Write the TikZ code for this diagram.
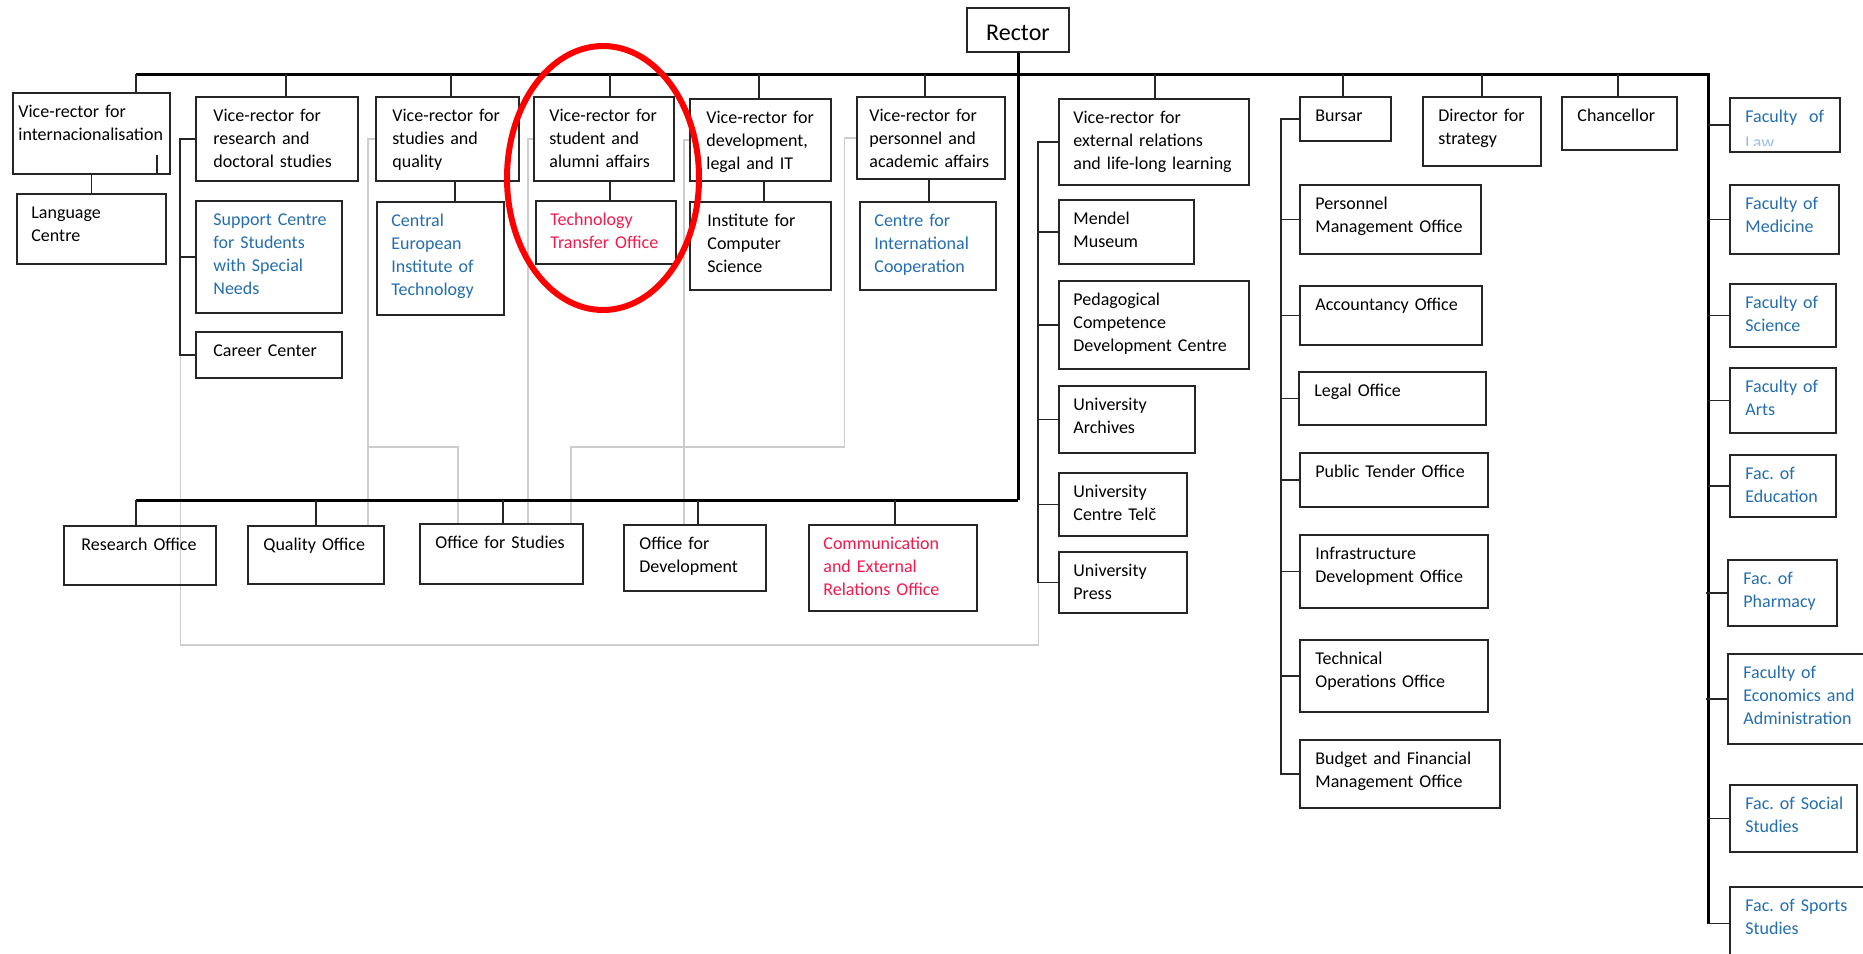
\documentclass[tikz,border=0pt]{standalone}
\usepackage{fontspec}
\setmainfont{Carlito}
\frenchspacing
\usetikzlibrary{fit}
\definecolor{unitblue}{RGB}{36,110,175}
\definecolor{unitred}{RGB}{245,25,75}
\definecolor{faintgrey}{RGB}{205,205,205}
\pgfdeclarelayer{back}
\pgfsetlayers{back,main}
\tikzset{
  unit/.style={draw=black!85, line width=1.6pt, inner sep=0pt},
  unittext/.style={font=\fontsize{18}{23}\selectfont, text width=250pt, align=left,
    inner sep=0pt, anchor=base west},
  link/.style={line width=1.8pt, draw=black!85},
  bar/.style={line width=3pt, draw=black},
  faint/.style={line width=1.2pt, draw=faintgrey},
}
% #1 text inset, #2 name, #3-#6 corners, #7 text colour, #8 text
\newcommand\orgbox[8][16]{%
  \node[unit, fit={(#3,#4) (#5,#6)}] (#2) {};
  \node[unittext, text=#7] (#2-t) at ([shift={(#1,25)}]#2.north west) {#8};
}
\begin{document}
\begin{tikzpicture}[x=1pt, y=-1pt]
\begin{pgfonlayer}{back}
  \fill[white] (0,0) rectangle (1863,953);
\end{pgfonlayer}
\useasboundingbox (0,0) rectangle (1863,953);

% rector
\node[unit, fit={(967,8) (1069,52)}] (rector) {};
\node[font=\fontsize{24}{28}\selectfont, anchor=base, inner sep=0pt] (rector-t)
  at ([yshift=12pt]rector.south) {Rector};

% vice-rectors and their units
\orgbox[6]{vrint}{13}{93}{170}{174}{black}{Vice-rector for\\internacionalisation}
\orgbox[15]{lang}{17}{194}{166}{264}{black}{Language\\Centre}
\orgbox[18]{vrres}{196}{97}{358}{181}{black}{Vice-rector for\\research and\\doctoral studies}
\orgbox[18]{support}{196}{201}{342}{313}{unitblue}{Support Centre\\for Students\\with Special\\Needs}
\orgbox[18]{career}{196}{332}{342}{378}{black}{Career Center}
\orgbox[17]{vrstud}{376}{97}{519}{181}{black}{Vice-rector for\\studies and\\quality}
\orgbox[15]{ceitec}{377}{202}{504}{315}{unitblue}{Central\\European\\Institute of\\Technology}
\orgbox[16]{vrstu}{534}{97}{674}{181}{black}{Vice-rector for\\student and\\alumni affairs}
\orgbox[15]{tto}{536}{201}{676}{264}{unitred}{Technology\\Transfer Office}
\orgbox[17]{vrdev}{690}{99}{831}{181}{black}{Vice-rector for\\development,\\legal and IT}
\orgbox[18]{ics}{690}{202}{831}{290}{black}{Institute for\\Computer\\Science}
\orgbox[13]{vrpers}{857}{97}{1005}{179}{black}{Vice-rector for\\personnel and\\academic affairs}
\orgbox[15]{cic}{860}{202}{996}{290}{unitblue}{Centre for\\International\\Cooperation}
\orgbox[15]{vrext}{1059}{99}{1249}{185}{black}{Vice-rector for\\external relations\\and life-long learning}
\orgbox[15]{mendel}{1059}{200}{1194}{264}{black}{Mendel\\Museum}
\orgbox[15]{peda}{1059}{281}{1249}{369}{black}{Pedagogical\\Competence\\Development Centre}
\orgbox[15]{archives}{1059}{386}{1195}{453}{black}{University\\Archives}
\orgbox[15]{telc}{1059}{473}{1187}{536}{black}{University\\Centre Telč}
\orgbox[15]{press}{1059}{552}{1187}{613}{black}{University\\Press}

% bursar, director, chancellor
\orgbox{bursar}{1300}{97}{1391}{141}{black}{Bursar}
\orgbox{director}{1423}{97}{1541}{166}{black}{Director for\\strategy}
\orgbox{chancellor}{1562}{97}{1677}{150}{black}{Chancellor}
\orgbox{pmo}{1300}{185}{1481}{254}{black}{Personnel\\Management Office}
\orgbox{acc}{1300}{286}{1482}{345}{black}{Accountancy Office}
\orgbox{legal}{1299}{372}{1486}{425}{black}{Legal Office}
\orgbox{tender}{1300}{453}{1488}{507}{black}{Public Tender Office}
\orgbox{infra}{1300}{535}{1488}{608}{black}{Infrastructure\\Development Office}
\orgbox{tech}{1300}{640}{1488}{712}{black}{Technical\\Operations Office}
\orgbox{budget}{1300}{740}{1500}{808}{black}{Budget and Financial\\Management Office}

% faculties
\orgbox{law}{1730}{98}{1840}{152}{unitblue}{Faculty~ of}
\begin{scope}
  \clip (law.north west) rectangle ([yshift=7pt]law.south east);
  \node[unittext, text=unitblue, opacity=0.45] (law-t2) at ([shift={(16,51)}]law.north west) {Law};
\end{scope}
\orgbox{med}{1730}{185}{1839}{254}{unitblue}{Faculty of\\Medicine}
\orgbox{sci}{1730}{284}{1836}{347}{unitblue}{Faculty of\\Science}
\orgbox{arts}{1730}{368}{1836}{433}{unitblue}{Faculty of\\Arts}
\orgbox{edu}{1730}{455}{1836}{517}{unitblue}{Fac. of\\Education}
\orgbox{pharm}{1728}{560}{1837}{626}{unitblue}{Fac. of\\Pharmacy}
\orgbox{econ}{1728}{654}{1872}{744}{unitblue}{Faculty of\\Economics and\\Administration}
\orgbox{social}{1730}{785}{1857}{852}{unitblue}{Fac. of Social\\Studies}
\orgbox{sports}{1730}{887}{1872}{960}{unitblue}{Fac. of Sports\\Studies}

% offices below the rector
\orgbox[18]{resoff}{64}{526}{216}{585}{black}{Research Office}
\orgbox{quality}{248}{526}{384}{584}{black}{Quality Office}
\orgbox{offstud}{420}{524}{583}{584}{black}{Office for Studies}
\orgbox{offdev}{624}{525}{766}{591}{black}{Office for\\Development}
\orgbox[15]{comm}{809}{525}{977}{611}{unitred}{Communication\\and External\\Relations Office}

\coordinate (topbar) at (0,74);
\coordinate (botbar) at (0,500);
\coordinate (faintmid) at (0,447);
\coordinate (faintlow) at (0,645);

% main bars
\draw[bar] ([xshift=44.5pt]vrint.north |- topbar) -| ([xshift=-21pt]sports.west);
\draw[bar] (rector.south) -- (rector.south |- botbar);
\draw[bar] ([xshift=-4pt]resoff.north |- botbar) -- (rector.south |- botbar);

% drops from the bars
\foreach \n/\dx in {vrint/44.5, vrres/9, vrstud/3.5, vrstu/6, vrdev/-1.5, vrpers/-6,
                    vrext/1, bursar/-2.5, director/0, chancellor/-1.5}
  \draw[link] ([xshift=\dx pt]\n.north) -- ([xshift=\dx pt]\n.north |- topbar);
\foreach \n/\dx in {resoff/-4, quality/0, offstud/1.5, offdev/3, comm/2}
  \draw[link] ([xshift=\dx pt]\n.north) -- ([xshift=\dx pt]\n.north |- botbar);

% units under a vice-rector
\draw[link] (vrint.south) -- (lang.north);
\draw[link] ([xshift=-14pt]vrint.south east) -- ++(0,-20);
\draw[link] ([xshift=7.5pt]vrstud.south) -- ([xshift=7.5pt]vrstud.south |- ceitec.north);
\draw[link] ([xshift=6pt]vrstu.south) -- ([xshift=6pt]vrstu.south |- tto.north);
\draw[link] ([xshift=3.5pt]vrdev.south) -- ([xshift=3.5pt]vrdev.south |- ics.north);
\draw[link] ([xshift=-2pt]vrpers.south) -- ([xshift=-2pt]vrpers.south |- cic.north);

% side brackets
\draw[link] (vrres.west) -- ++(-15,0) |- (career.west);
\draw[link] (support.west) -- ++(-15,0);
\draw[link] (vrext.west) -- ++(-20,0) |- (press.west);
\foreach \n in {mendel, peda, archives, telc}
  \draw[link] (\n.west) -- ++(-20,0);
\draw[link] (bursar.west) -- ++(-18,0) |- (budget.west);
\foreach \n in {pmo, acc, legal, tender, infra, tech}
  \draw[link] (\n.west) -- ++(-18,0);
\foreach \n in {law, med, sci, arts, edu, pharm, econ, social, sports}
  \draw[link] (\n.west) -- ++(-21,0);

% light cross-links
\begin{pgfonlayer}{back}
  \draw[faint] ([xshift=-15pt]career.west) -- ([xshift=-15pt]career.west |- faintlow)
    -- ([xshift=-20pt]press.west |- faintlow) -- ([xshift=-20pt]press.west);
  \draw[faint] (vrstud.west) -| ([xshift=52pt]quality.north);
  \draw[faint] ([xshift=52pt]quality.north |- faintmid) -| ([xshift=-43.5pt]offstud.north);
  \draw[faint] (vrstu.west) -| ([xshift=26.5pt]offstud.north);
  \draw[faint] (vrpers.west) -| ([xshift=-12pt]vrpers.west |- faintmid)
    -| ([xshift=69.5pt]offstud.north);
  \draw[faint] (vrdev.west) -| ([xshift=-11pt]offdev.north);
\end{pgfonlayer}

% highlight ring
\draw[red, line width=6pt] (603,178) ellipse [x radius=96pt, y radius=132pt];
\end{tikzpicture}
\end{document}
